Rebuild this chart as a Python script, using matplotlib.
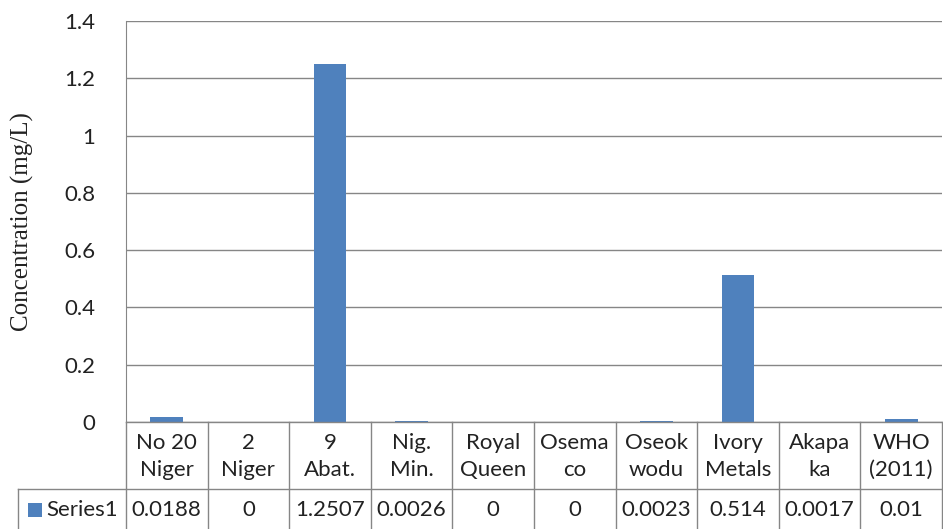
import numpy as np
import matplotlib
matplotlib.use('Agg')
import matplotlib.pyplot as plt
from matplotlib.patches import Rectangle

# data
categories = ['No 20\nNiger', '2\nNiger', '9\nAbat.', 'Nig.\nMin.', 'Royal\nQueen',
              'Osema\nco', 'Oseok\nwodu', 'Ivory\nMetals', 'Akapa\nka', 'WHO\n(2011)']
values = [0.0188, 0, 1.2507, 0.0026, 0, 0, 0.0023, 0.514, 0.0017, 0.01]
value_labels = ['0.0188', '0', '1.2507', '0.0026', '0', '0', '0.0023', '0.514', '0.0017', '0.01']
series_name = 'Series1'
yticks = [0, 0.2, 0.4, 0.6, 0.8, 1, 1.2, 1.4]
ytick_labels = ['0', '0.2', '0.4', '0.6', '0.8', '1', '1.2', '1.4']

BLUE = '#4F81BD'; GRID = '#868686'; TXT = '#222222'
SANS = ['Lato', 'DejaVu Sans']
FS = 16

W, H = 943, 529
fig = plt.figure(figsize=(W / 100, H / 100), dpi=100)
fig.patch.set_facecolor('white')

# axes box in pixel coords
x0, x1, ytop, ybot = 126, 942, 21, 422
ax = fig.add_axes([x0 / W, 1 - ybot / H, (x1 - x0) / W, (ybot - ytop) / H])

n = len(categories)
xs = np.arange(n)
ax.bar(xs, values, width=0.4, color=BLUE, zorder=3)
ax.set_xlim(-0.5, n - 0.5)
ax.set_ylim(0, 1.4)
ax.set_yticks(yticks)
ax.set_yticklabels(ytick_labels, fontsize=FS, color=TXT, family=SANS)
ax.set_xticks([])
ax.tick_params(axis='y', length=0, pad=22)
ax.grid(axis='y', color=GRID, linewidth=1, zorder=0)
for side in ['top', 'right', 'bottom']:
    ax.spines[side].set_visible(False)
ax.spines['left'].set_color(GRID)

# y label placed by pixel position
fig.text(22 / W, 1 - 222 / H, 'Concentration (mg/L)', rotation=90, ha='center',
         va='center', fontsize=18, family='Liberation Serif', color=TXT)

# data table under the axes, drawn in figure pixel coords
def fx(px):
    return px / W

def fy(py):
    return 1 - py / H

cw = (x1 - x0) / n
row1, row2, row3 = 422, 489, 529
lkw = dict(color=GRID, linewidth=1, transform=fig.transFigure)
fig.add_artist(plt.Line2D([fx(x0), fx(x1)], [fy(row1), fy(row1)], **lkw))
fig.add_artist(plt.Line2D([fx(18), fx(x1)], [fy(row2), fy(row2)], **lkw))
fig.add_artist(plt.Line2D([fx(18), fx(18)], [fy(row2), fy(row3)], **lkw))
for i in range(n + 1):
    xp = x0 + i * cw
    fig.add_artist(plt.Line2D([fx(xp), fx(xp)], [fy(row1), fy(row3)], **lkw))

for i, (cat, lab) in enumerate(zip(categories, value_labels)):
    cx = x0 + (i + 0.5) * cw
    fig.text(fx(cx), fy((row1 + row2) / 2 + 1), cat, ha='center', va='center',
             fontsize=FS, family=SANS, color=TXT, linespacing=1.4)
    fig.text(fx(cx), fy((row2 + row3) / 2 + 1), lab, ha='center', va='center',
             fontsize=FS, family=SANS, color=TXT)

fig.add_artist(Rectangle((fx(28), fy(517)), 14 / W, 14 / H, facecolor=BLUE,
                         edgecolor='none', transform=fig.transFigure))
fig.text(fx(46), fy((row2 + row3) / 2 + 1), series_name, ha='left', va='center',
         fontsize=FS, family=SANS, color=TXT)

fig.savefig('out.png', dpi=100, facecolor='white')
